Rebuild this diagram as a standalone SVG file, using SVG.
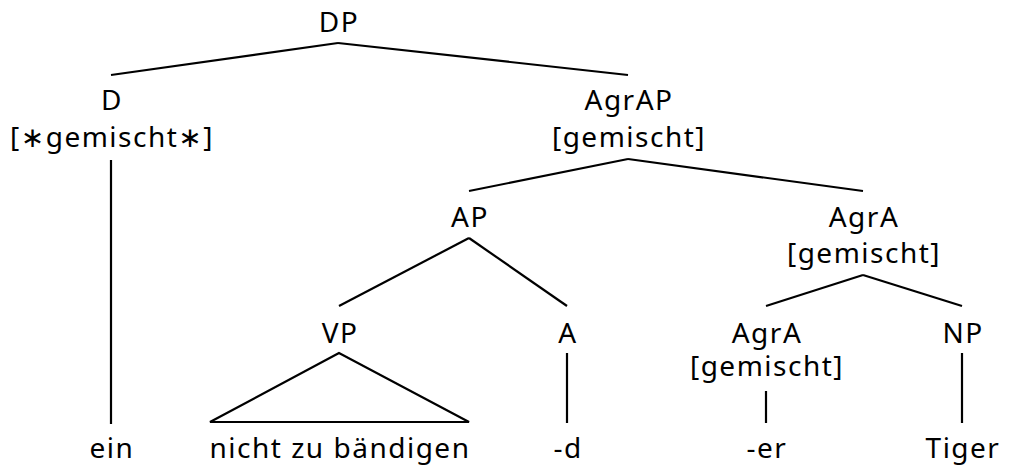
<svg xmlns="http://www.w3.org/2000/svg" width="1011" height="468" viewBox="0 0 1011 468">
<style>
text{font-family:"Noto Sans","Open Sans","DejaVu Sans",sans-serif;font-size:28px;letter-spacing:1.5px;fill:#000;text-anchor:middle}
.e line,.e path{stroke:#000;stroke-width:2.2;fill:none}
</style>
<rect width="1011" height="468" fill="#fff"/>
<g id="connectors" class="e">
<line x1="338" y1="43" x2="111" y2="75"/>
<line x1="338" y1="43" x2="628" y2="75"/>
<line x1="111" y1="160" x2="111" y2="424"/>
<line x1="628" y1="159" x2="469" y2="191"/>
<line x1="628" y1="159" x2="863" y2="191"/>
<line x1="469" y1="238" x2="339" y2="306"/>
<line x1="469" y1="238" x2="567" y2="306"/>
<path d="M339 353 L210 422 L469 422 Z"/>
<line x1="567" y1="353" x2="567" y2="423"/>
<line x1="863" y1="275" x2="766" y2="306"/>
<line x1="863" y1="275" x2="962" y2="306"/>
<line x1="766" y1="391" x2="766" y2="423"/>
<line x1="962" y1="353" x2="962" y2="423"/>
</g>
<g id="n-DP"><text x="339" y="32">DP</text></g>
<g id="n-D"><text x="112" y="110">D</text><text x="112" y="147">[∗gemischt∗]</text></g>
<g id="n-AgrAP"><text x="629" y="110">AgrAP</text><text x="629" y="147">[gemischt]</text></g>
<g id="n-AP"><text x="470" y="227">AP</text></g>
<g id="n-AgrA1"><text x="864" y="227">AgrA</text><text x="864" y="263">[gemischt]</text></g>
<g id="n-VP"><text x="340" y="343">VP</text></g>
<g id="n-A"><text x="568" y="343">A</text></g>
<g id="n-AgrA2"><text x="767" y="343">AgrA</text><text x="767" y="376">[gemischt]</text></g>
<g id="n-NP"><text x="963" y="343">NP</text></g>
<g id="n-ein"><text x="112" y="458">ein</text></g>
<g id="n-nicht"><text x="340" y="458">nicht zu bändigen</text></g>
<g id="n-d"><text x="568" y="458">-d</text></g>
<g id="n-er"><text x="767" y="458">-er</text></g>
<g id="n-Tiger"><text x="963" y="458">Tiger</text></g>
</svg>
